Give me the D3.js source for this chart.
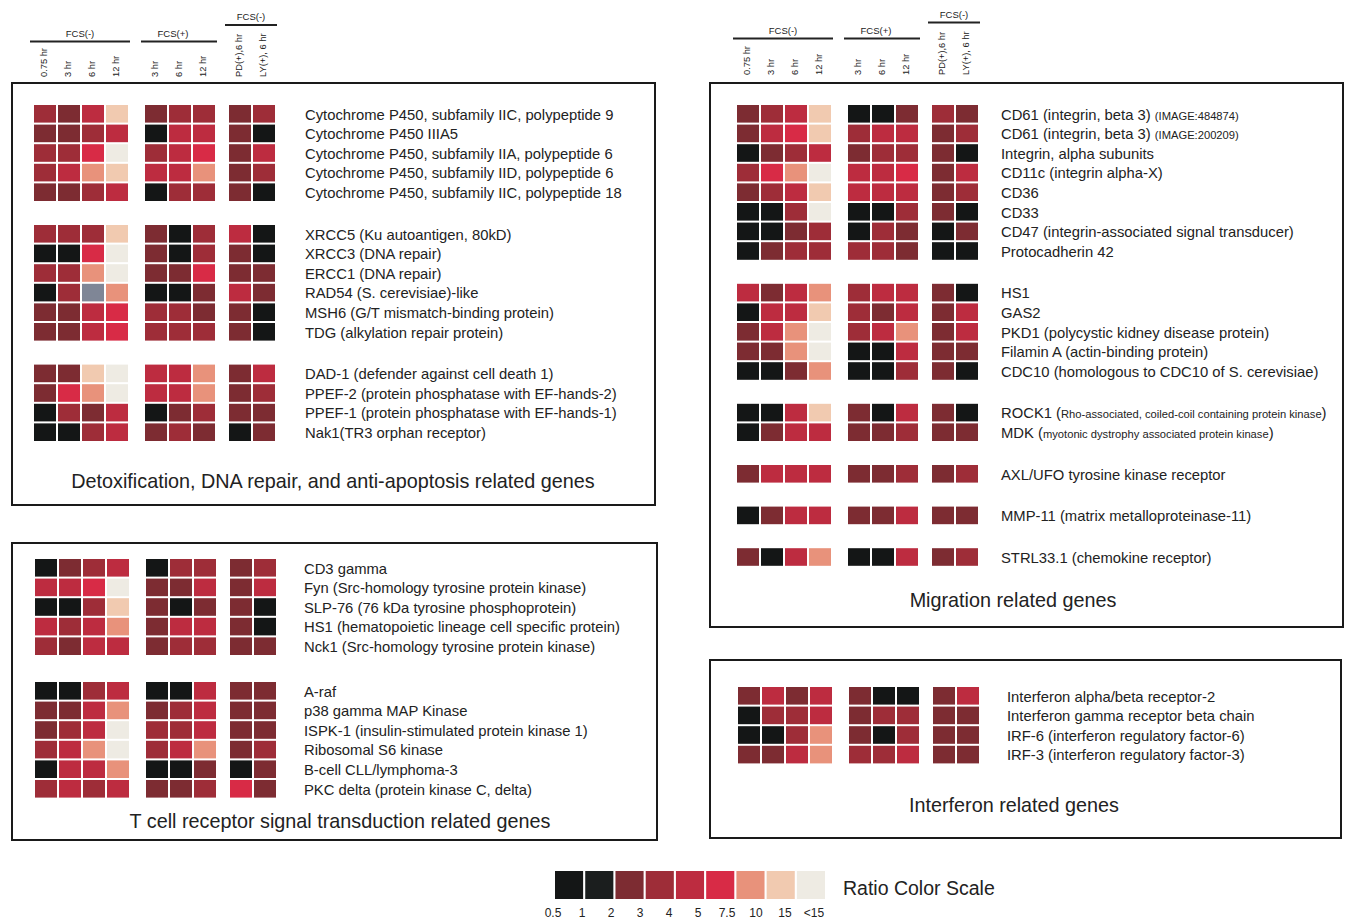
<!DOCTYPE html>
<html>
<head>
<meta charset="utf-8">
<script src="https://cdn.jsdelivr.net/npm/d3@7"></script>
<style>
  body { margin: 0; background: #fff; }
  svg { font-family: "Liberation Sans", Arial, sans-serif; }
</style>
</head>
<body>
<div id="chart"></div>
<script>
// columns of every heatmap
const columns = ['0.75 hr', '3 hr', '6 hr', '12 hr', '3 hr', '6 hr', '12 hr', 'PD(+),6 hr', 'LY(+), 6 hr'];
const columnBlocks = [0, 0, 0, 0, 1, 1, 1, 2, 2];
const blockLabels = ['FCS(-)', 'FCS(+)', 'FCS(-)'];

// ratio colour scale (level 0..8), 'g' = no data
const scaleColors = ['#141616', '#1b1e1e', '#7d2c32', '#9e2d38', '#bd2c40', '#d82b46', '#e8927b', '#f1cab0', '#eeebe3'];
const scaleTicks = ['0.5', '1', '2', '3', '4', '5', '7.5', '10', '15', '<15'];
const missingColor = '#7f8696';

// {..} = small print
const detoxGenes = [
  ['Cytochrome P450, subfamily IIC, polypeptide 9', 'Cytochrome P450 IIIA5', 'Cytochrome P450, subfamily IIA, polypeptide 6',
   'Cytochrome P450, subfamily IID, polypeptide 6', 'Cytochrome P450, subfamily IIC, polypeptide 18'],
  ['XRCC5 (Ku autoantigen, 80kD)', 'XRCC3 (DNA repair)', 'ERCC1 (DNA repair)', 'RAD54 (S. cerevisiae)-like',
   'MSH6 (G/T mismatch-binding protein)', 'TDG (alkylation repair protein)'],
  ['DAD-1 (defender against cell death 1)', 'PPEF-2 (protein phosphatase with EF-hands-2)',
   'PPEF-1 (protein phosphatase with EF-hands-1)', 'Nak1(TR3 orphan receptor)']
];
const detoxLevels = [
  ['3247 233 23', '2234 044 20', '3358 345 24', '3467 446 23', '2234 033 20'],
  ['3337 203 40', '0058 203 20', '3368 225 22', '03g6 002 42', '2245 332 20', '2245 333 20'],
  ['2278 446 24', '2568 446 23', '0324 023 22', '0034 232 02']
];

const tcellGenes = [
  ['CD3 gamma', 'Fyn (Src-homology tyrosine protein kinase)', 'SLP-76 (76 kDa tyrosine phosphoprotein)',
   'HS1 (hematopoietic lineage cell specific protein)', 'Nck1 (Src-homology tyrosine protein kinase)'],
  ['A-raf', 'p38 gamma MAP Kinase', 'ISPK-1 (insulin-stimulated protein kinase 1)', 'Ribosomal S6 kinase',
   'B-cell CLL/lymphoma-3', 'PKC delta (protein kinase C, delta)']
];
const tcellLevels = [
  ['0234 033 23', '4458 224 24', '0037 202 20', '4346 244 20', '3244 233 22'],
  ['0034 004 22', '2246 234 22', '2348 334 22', '3468 346 23', '0446 002 02', '3434 223 52']
];

const migrationGenes = [
  ['CD61 (integrin, beta 3) {(IMAGE:484874)}', 'CD61 (integrin, beta 3) {(IMAGE:200209)}', 'Integrin, alpha subunits',
   'CD11c (integrin alpha-X)', 'CD36', 'CD33', 'CD47 (integrin-associated signal transducer)', 'Protocadherin 42'],
  ['HS1', 'GAS2', 'PKD1 (polycystic kidney disease protein)', 'Filamin A (actin-binding protein)',
   'CDC10 (homologous to CDC10 of S. cerevisiae)'],
  ['ROCK1 ({Rho-associated, coiled-coil containing protein kinase})', 'MDK ({myotonic dystrophy associated protein kinase})'],
  ['AXL/UFO tyrosine kinase receptor'],
  ['MMP-11 (matrix metalloproteinase-11)'],
  ['STRL33.1 (chemokine receptor)']
];
const migrationLevels = [
  ['2347 002 32', '2457 344 23', '0234 233 20', '3568 445 24', '2347 444 23', '0038 003 20', '0023 032 02', '0233 332 00'],
  ['4246 344 20', '0447 324 24', '2468 346 24', '2268 004 22', '0026 003 20'],
  ['0047 204 20', '0244 223 22'],
  ['2444 223 23'],
  ['0244 224 22'],
  ['2046 004 23']
];

const interferonGenes = [
  ['Interferon alpha/beta receptor-2', 'Interferon gamma receptor beta chain',
   'IRF-6 (interferon regulatory factor-6)', 'IRF-3 (interferon regulatory factor-3)']
];
const interferonLevels = [
  ['2424 200 24', '0334 233 22', '0036 203 22', '2246 334 22']
];

const width = 1345, height = 919;
const colStep = 24, cellW = 22, rowStep = 19.6, cellH = 17.6;
const blockShift = [0, 0.625, 1.125];

const svg = d3.select('#chart').append('svg')
  .attr('width', width)
  .attr('height', height);

svg.append('rect').attr('width', width).attr('height', height).attr('fill', '#fff');

const levelColor = l => l === 'g' ? missingColor : scaleColors[+l];

function addLabel(sel, label, big, small) {
  label.split(/(\{[^}]*\})/).filter(s => s.length).forEach(s => {
    const isSmall = s[0] === '{';
    sel.append('tspan')
      .attr('font-size', isSmall ? small : big)
      .text(isSmall ? s.slice(1, -1) : s);
  });
}

function columnScale(x0) {
  const x = d3.scaleLinear().domain([0, 1]).range([x0, x0 + colStep]);
  return i => x(i + blockShift[columnBlocks[i]]);
}

function drawHeader(x0, lineY, highY, labelBottom) {
  const cx = columnScale(x0);
  const g = svg.append('g').attr('fill', '#222');

  blockLabels.forEach((lab, b) => {
    const idx = columnBlocks.map((d, i) => d === b ? i : -1).filter(i => i >= 0);
    const start = cx(idx[0]) - 4;
    const end = cx(idx[idx.length - 1]) + cellW + 2;
    const y = b === 2 ? highY : lineY;
    g.append('line')
      .attr('x1', start).attr('x2', end)
      .attr('y1', y).attr('y2', y)
      .attr('stroke', '#222').attr('stroke-width', 2);
    g.append('text')
      .attr('x', (start + end) / 2 - (b === 1 ? 6 : 0))
      .attr('y', y - 5)
      .attr('text-anchor', 'middle')
      .attr('font-size', 9.5)
      .text(lab);
  });

  g.selectAll('text.col')
    .data(columns)
    .enter()
    .append('text')
    .attr('class', 'col')
    .attr('font-size', 9.3)
    .attr('text-anchor', 'start')
    .attr('transform', (d, i) => `translate(${cx(i) + cellW / 2 + 2}, ${labelBottom}) rotate(-90)`)
    .text(d => d);
}

function drawPanel(p) {
  const g = svg.append('g');
  g.append('rect')
    .attr('x', p.box[0]).attr('y', p.box[1])
    .attr('width', p.box[2]).attr('height', p.box[3])
    .attr('fill', 'none')
    .attr('stroke', '#1a1a1a')
    .attr('stroke-width', 2);

  const cx = columnScale(p.x0);
  const y = d3.scaleLinear().domain([0, 1]).range([p.y0, p.y0 + rowStep]);

  const rows = [];
  let n = 0;
  p.genes.forEach((grp, gi) => {
    grp.forEach((name, ri) => {
      const levels = p.levels[gi][ri].replace(/\s/g, '').split('');
      rows.push({ name, levels, top: y(n) + gi * p.gap });
      n++;
    });
  });

  const row = g.selectAll('g.row')
    .data(rows)
    .enter()
    .append('g')
    .attr('class', 'row');

  row.selectAll('rect')
    .data(d => d.levels.map((l, i) => ({ l, i, top: d.top })))
    .enter()
    .append('rect')
    .attr('x', d => cx(d.i))
    .attr('y', d => d.top)
    .attr('width', cellW)
    .attr('height', cellH)
    .attr('fill', d => levelColor(d.l));

  row.append('text')
    .attr('x', p.labelX)
    .attr('y', d => d.top + cellH / 2)
    .attr('dy', '0.36em')
    .attr('fill', '#222')
    .each(function (d) { addLabel(d3.select(this), d.name, 14.8, 11.2); });

  g.append('text')
    .attr('x', p.titleX)
    .attr('y', p.titleY)
    .attr('text-anchor', 'middle')
    .attr('font-size', 19.8)
    .attr('fill', '#222')
    .text(p.title);
}

drawHeader(34, 41.5, 25, 77);
drawHeader(737, 38.5, 22.5, 75);

drawPanel({
  box: [12, 83, 643, 422], x0: 34, y0: 105, gap: 22, labelX: 305,
  genes: detoxGenes, levels: detoxLevels,
  title: 'Detoxification, DNA repair, and anti-apoptosis related genes', titleX: 333, titleY: 488
});
drawPanel({
  box: [12, 543, 645, 297], x0: 35, y0: 559, gap: 25, labelX: 304,
  genes: tcellGenes, levels: tcellLevels,
  title: 'T cell receptor signal transduction related genes', titleX: 340, titleY: 828
});
drawPanel({
  box: [710, 83, 633, 544], x0: 737, y0: 105, gap: 22, labelX: 1001,
  genes: migrationGenes, levels: migrationLevels,
  title: 'Migration related genes', titleX: 1013, titleY: 607
});
drawPanel({
  box: [710, 660, 631, 178], x0: 738, y0: 687, gap: 22, labelX: 1007,
  genes: interferonGenes, levels: interferonLevels,
  title: 'Interferon related genes', titleX: 1014, titleY: 812
});

// colour scale legend
const sx = d3.scaleBand().domain(d3.range(scaleColors.length)).range([555, 825]).paddingInner(0.07);
const legend = svg.append('g');
legend.selectAll('rect')
  .data(scaleColors)
  .enter()
  .append('rect')
  .attr('x', (d, i) => sx(i))
  .attr('y', 871)
  .attr('width', sx.bandwidth())
  .attr('height', 28)
  .attr('fill', d => d);

const tx = d3.scaleLinear().domain([0, scaleTicks.length - 1]).range([553, 814]);
legend.selectAll('text')
  .data(scaleTicks)
  .enter()
  .append('text')
  .attr('x', (d, i) => tx(i))
  .attr('y', 917)
  .attr('text-anchor', 'middle')
  .attr('font-size', 12)
  .attr('fill', '#222')
  .text(d => d);

legend.append('text')
  .attr('x', 843)
  .attr('y', 895)
  .attr('font-size', 19.5)
  .attr('fill', '#222')
  .text('Ratio Color Scale');
</script>
</body>
</html>
